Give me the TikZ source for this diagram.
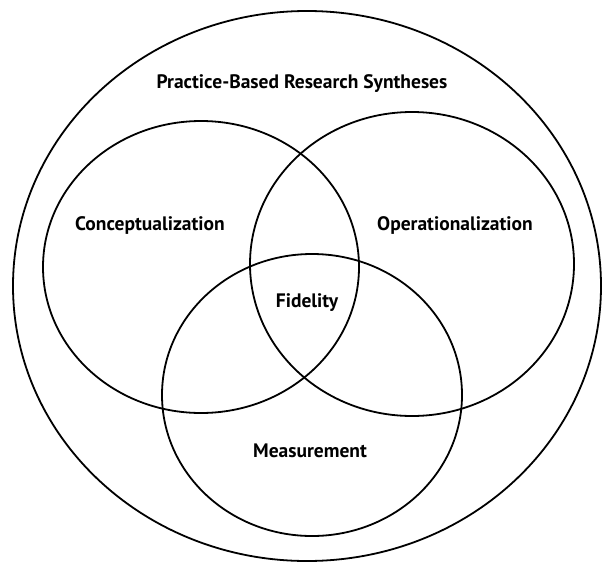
\documentclass[tikz,border=0pt]{standalone}
\usepackage{fontspec}
\setmainfont{PT Sans}
\usepackage{tikz}
\tikzstyle{set}=[draw=black,line width=1.8pt]
\tikzstyle{setname}=[font=\bfseries\fontsize{19.5}{22}\selectfont,inner sep=0pt]

\begin{document}
\begin{tikzpicture}[x=1pt,y=-1pt]
	\useasboundingbox (0,0) rectangle (602,562);

	% outer field and the three sets
	\draw[set] (307,286) ellipse [x radius=294, y radius=275];
	\draw[set] (201,267) ellipse [x radius=158, y radius=146];
	\draw[set] (412,264) ellipse [x radius=162, y radius=152];
	\draw[set] (312,395) ellipse [x radius=150, y radius=141];

	\node[setname] (prbs) at (302,84) {Practice-Based Research Syntheses};
	\node[setname] (concept) at (150,225) {Conceptualization};
	\node[setname] (oper) at (455,225) {Operationalization};
	\node[setname] (fid) at (307,303) {Fidelity};
	\node[setname] (meas) at (310,451) {Measurement};

\end{tikzpicture}
\end{document}
